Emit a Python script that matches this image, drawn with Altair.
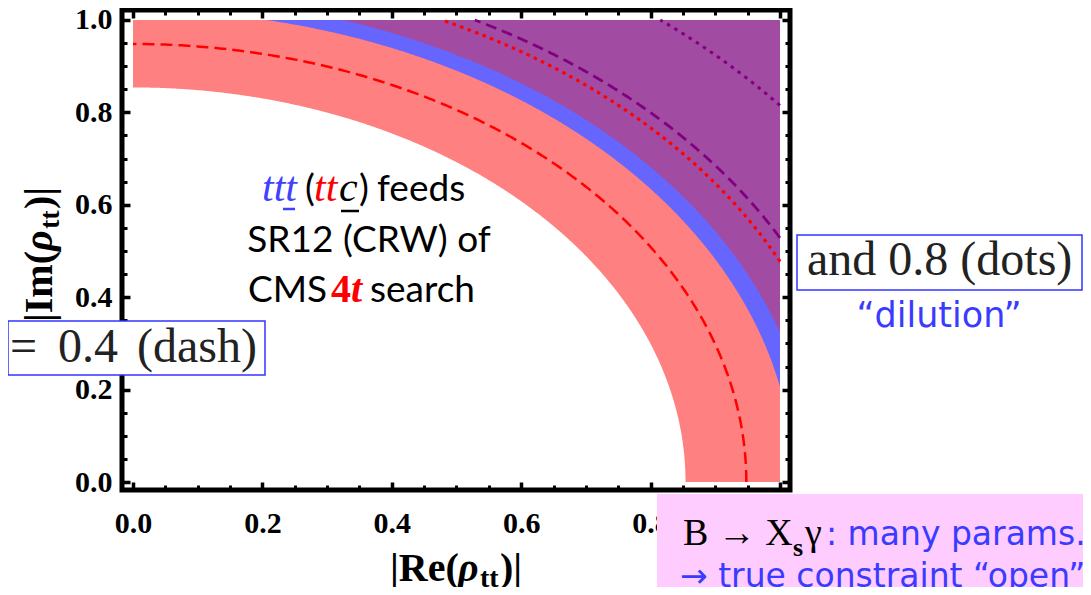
import numpy as np
import pandas as pd
import altair as alt

# ---------------- data ----------------
# band radii in the (|Re rho_tt|, |Im rho_tt|) plane
pink_inner_r = 0.854     # inner edge of the salmon (ttt / ttc) band
blue_inner_r = 1.021     # start of the blue band
purple_inner_r = 1.051   # start of the purple region
# contour radii
red_dash_r = 0.948
red_dot_r = 1.108
purple_dash_r = 1.131
purple_dot_r = 1.290

major_ticks = [0.0, 0.2, 0.4, 0.6, 0.8, 1.0]
minor_ticks = [0.05, 0.1, 0.15, 0.25, 0.3, 0.35, 0.45, 0.5, 0.55,
               0.65, 0.7, 0.75, 0.85, 0.9, 0.95]

# ---------------- geometry ----------------
W, H = 668, 480
OX, OY = 122, 10  # page position of plot origin
xs = alt.Scale(domain=[-0.017, 1.0155], nice=False, zero=False)
ys = alt.Scale(domain=[-0.0173, 1.0216], nice=False, zero=False)


def region(r):
    xx = np.unique(np.concatenate([
        np.linspace(0, 1, 501),
        np.clip(r * np.cos(np.linspace(0, np.pi / 2, 301)), 0, 1)]))
    lo = np.minimum(np.sqrt(np.clip(r * r - xx * xx, 0, None)), 1.0)
    return pd.DataFrame({"x": xx, "y": lo, "y2": np.ones_like(xx)})


def arc(r):
    t0 = np.arccos(min(1.0, 1.0 / r))
    t1 = np.arcsin(min(1.0, 1.0 / r))
    th = np.linspace(t0, t1, 300)
    return pd.DataFrame({"x": r * np.cos(th), "y": r * np.sin(th), "o": np.arange(len(th))})


LABEL = dict(labelFont="Liberation Serif", labelFontSize=30, labelFontWeight="bold",
             labelColor="black", format=".1f", labelFlush=False, labelOverlap=False)


def ax(orient, values, size, width, labels=False, pad=0):
    kw = dict(orient=orient, values=values, tickSize=size, tickWidth=width,
              tickColor="black", domain=False, grid=False, offset=-size,
              title=None, labels=labels, labelPadding=pad)
    if labels:
        kw.update(LABEL)
    return alt.Axis(**kw)


def area_layer(df, color, xaxis, yaxis):
    return alt.Chart(df).mark_area(color=color, opacity=1, strokeWidth=0).encode(
        x=alt.X("x:Q", scale=xs, axis=xaxis),
        y=alt.Y("y:Q", scale=ys, axis=yaxis),
        y2="y2:Q")


def line_layer(df, color, width, dash, xaxis=None, yaxis=None):
    return alt.Chart(df).mark_line(color=color, strokeWidth=width, strokeDash=dash).encode(
        x=alt.X("x:Q", scale=xs, axis=xaxis),
        y=alt.Y("y:Q", scale=ys, axis=yaxis),
        order="o:Q")


dummy = pd.DataFrame({"d": [0]})


def txt(text, px, py, size, color="black", font="Lato", style="normal",
        weight="normal", align="left", angle=0):
    return alt.Chart(dummy).mark_text(
        text=text, font=font, fontSize=size, fontStyle=style, fontWeight=weight,
        color=color, align=align, baseline="alphabetic", angle=angle).encode(
        x=alt.value(px - OX), y=alt.value(py - OY))


def box(x1, y1, x2, y2, fill, stroke=None, sw=0):
    kw = dict(fill=fill, strokeWidth=sw)
    if stroke:
        kw["stroke"] = stroke
    return alt.Chart(dummy).mark_rect(**kw).encode(
        x=alt.value(x1 - OX), x2=alt.value(x2 - OX),
        y=alt.value(y1 - OY), y2=alt.value(y2 - OY))


def uline(x1, x2, y, color, w=2.5):
    return alt.Chart(dummy).mark_rule(color=color, strokeWidth=w).encode(
        x=alt.value(x1 - OX), x2=alt.value(x2 - OX), y=alt.value(y - OY))


pink = area_layer(region(pink_inner_r), "#FF8080",
                  ax("bottom", major_ticks, 8, 3.5, True, 18),
                  ax("left", major_ticks, 8, 3.5, True, 10))
blue = area_layer(region(blue_inner_r), "#6666FF",
                  ax("bottom", minor_ticks, 5, 3),
                  ax("left", minor_ticks, 5, 3))
purple = area_layer(region(purple_inner_r), "#A24BA2",
                    ax("top", major_ticks, 8, 3.5),
                    ax("right", major_ticks, 8, 3.5))
red_dash = line_layer(arc(red_dash_r), "#FF0000", 2.5, [12, 6],
                      ax("top", minor_ticks, 5, 3), ax("right", minor_ticks, 5, 3))
red_dot = line_layer(arc(red_dot_r), "#FF0000", 3.2, [3.5, 4.5])
pur_dash = line_layer(arc(purple_dash_r), "#800080", 2.8, [11, 6])
pur_dot = line_layer(arc(purple_dot_r), "#800080", 3, [3.5, 5])

frame = alt.Chart(dummy).mark_rect(fillOpacity=0, stroke="black", strokeWidth=5).encode(
    x=alt.value(0), x2=alt.value(W), y=alt.value(0), y2=alt.value(H))

BLUE_TXT = "#3B3BFF"
SERIF = "Liberation Serif"
COMIC = "DejaVu Sans"

annotations = [
    # centre text, line 1
    txt("ttt", 262, 201, 42, "#4040FF", SERIF, "italic"),
    txt("(", 305, 201, 37),
    txt("tt", 314, 201, 42, "#FF0000", SERIF, "italic"),
    txt("c", 339, 201, 42, "black", SERIF, "italic"),
    txt(")", 359, 201, 37),
    txt("feeds", 377, 201, 37),
    uline(283, 295, 209, "#4040FF"),
    uline(341, 359, 211, "black"),
    # line 2
    txt("SR12 (CRW) of", 369, 252, 37, align="center"),
    # line 3
    txt("CMS", 248, 302, 37),
    txt("4", 331, 302, 40, "#FF0000", SERIF, "normal", "bold"),
    txt("t", 351, 302, 40, "#FF0000", SERIF, "italic", "bold"),
    txt("search", 370, 302, 37),
    # left box
    box(8, 321, 265, 375, "white", "#3333FF", 1.5),
    txt("=", 10, 362, 48, "#222222", SERIF),
    txt("0.4", 58, 362, 48, "#222222", SERIF),
    txt("(dash)", 137, 362, 48, "#222222", SERIF),
    # right box
    box(797, 235, 1082, 290, "white", "#3333FF", 1.5),
    txt("and 0.8 (dots)", 807, 275, 48, "#222222", SERIF),
    txt("\u201cdilution\u201d", 939, 327, 35, BLUE_TXT, COMIC, align="center"),
    # bottom-right pink box
    box(657, 494, 1100, 600, "#FFCCFF"),
    txt("B \u2192 X", 683, 545, 38, "black", SERIF),
    txt("s", 793, 556, 26, "black", SERIF, "normal", "bold"),
    txt("\u03b3", 805, 545, 38, "black", SERIF),
    txt(": many params.", 826, 545, 33, BLUE_TXT, COMIC),
    txt("\u2192 true constraint \u201copen\u201d", 680, 587, 33, BLUE_TXT, COMIC),
    # x axis title
    txt("|Re(", 390, 581, 40, "black", SERIF, "normal", "bold"),
    txt("\u03c1", 458, 581, 40, "black", SERIF, "italic", "bold"),
    txt("tt", 480, 587, 28, "black", SERIF, "normal", "bold"),
    txt(")|", 500, 581, 40, "black", SERIF, "normal", "bold"),
    # y axis title (rotated)
    txt("|Im(", 52, 322, 40, "black", SERIF, "normal", "bold", angle=270),
    txt("\u03c1", 52, 251, 40, "black", SERIF, "italic", "bold", angle=270),
    txt("tt", 59, 229, 28, "black", SERIF, "normal", "bold", angle=270),
    txt(")|", 52, 209, 40, "black", SERIF, "normal", "bold", angle=270),
]

chart = alt.layer(
    pink, blue, purple, red_dash, red_dot, pur_dash, pur_dot, frame, *annotations
).resolve_axis(x="independent", y="independent").properties(
    width=W, height=H,
    autosize=alt.AutoSizeParams(type="none"),
    padding={"left": OX - 8, "top": OY - 8, "right": 1075 - (OX - 8) - W,
             "bottom": 579 - (OY - 8) - H},
    background="white",
).configure_view(strokeWidth=0)

chart.save("out.html", embed_options={"renderer": "svg", "actions": False})
